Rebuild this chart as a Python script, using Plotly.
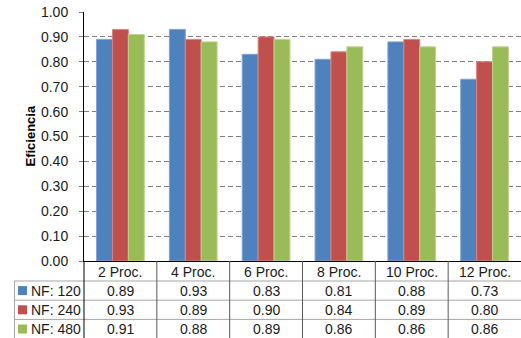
import plotly.graph_objects as go

categories = ["2 Proc.", "4 Proc.", "6 Proc.", "8 Proc.", "10 Proc.", "12 Proc."]
series_names = ["NF: 120", "NF: 240", "NF: 480"]
nf120 = [0.89, 0.93, 0.83, 0.81, 0.88, 0.73]
nf240 = [0.93, 0.89, 0.90, 0.84, 0.89, 0.80]
nf480 = [0.91, 0.88, 0.89, 0.86, 0.86, 0.86]
colors = ["#4F81BD", "#C0504D", "#9BBB59"]
edges = ["#7FA3D3", "#D88380", "#BCD48D"]

W, H = 521, 338
L, R, T, B = 84, 521, 12, 261  # plot area in pixels

def px(x):
    return (x - L) / (R - L)

def py(y):
    return (B - y) / (B - T)

FONT = "Liberation Sans, Arial, sans-serif"
fig = go.Figure()
for name, vals, c, e in zip(series_names, [nf120, nf240, nf480], colors, edges):
    fig.add_trace(go.Bar(x=categories, y=vals, name=name,
                         marker=dict(color=c, line=dict(color=e, width=1))))

shapes = []
annotations = []

# data table beneath the axis
col_w = (R - L) / len(categories)
row_h = 19.2
rows_top = B + 20
table_bottom = H
grid_h = "#A6A6A6"
grid_v = "#595959"

# horizontal lines
for i in range(0, 3):
    yy = rows_top + i * row_h
    shapes.append(dict(type="line", xref="paper", yref="paper",
                       x0=px(14), x1=px(R), y0=py(yy), y1=py(yy),
                       line=dict(color=grid_h, width=1)))
# left border of the series-name column
shapes.append(dict(type="line", xref="paper", yref="paper",
                   x0=px(14.5), x1=px(14.5), y0=py(rows_top), y1=py(table_bottom),
                   line=dict(color=grid_h, width=1)))
# vertical separators between categories
for i in range(1, len(categories)):
    xx = L + i * col_w
    shapes.append(dict(type="line", xref="paper", yref="paper",
                       x0=px(xx), x1=px(xx), y0=py(B), y1=py(table_bottom),
                       line=dict(color=grid_v, width=1)))
# axis line continues down through the table
shapes.append(dict(type="line", xref="paper", yref="paper",
                   x0=px(L), x1=px(L), y0=py(B), y1=py(table_bottom),
                   line=dict(color="black", width=1)))

# header labels
for i, cat in enumerate(categories):
    annotations.append(dict(xref="paper", yref="paper", x=px(L + (i + 0.5) * col_w),
                            y=py(B + 10.5), text=cat, showarrow=False,
                            xanchor="center", yanchor="middle",
                            font=dict(family=FONT, size=14, color="#1a1a1a")))

# rows: legend key, series name and values
for r, (name, vals, c) in enumerate(zip(series_names, [nf120, nf240, nf480], colors)):
    yc = rows_top + (r + 0.5) * row_h
    shapes.append(dict(type="rect", xref="paper", yref="paper",
                       x0=px(18), x1=px(27), y0=py(yc - 4.5), y1=py(yc + 4.5),
                       fillcolor=c, line=dict(width=0)))
    annotations.append(dict(xref="paper", yref="paper", x=px(28.5), y=py(yc),
                            text=name, showarrow=False, xanchor="left", yanchor="middle",
                            font=dict(family=FONT, size=14, color="#1a1a1a")))
    for i, v in enumerate(vals):
        annotations.append(dict(xref="paper", yref="paper", x=px(L + (i + 0.5) * col_w),
                                y=py(yc), text=f"{v:.2f}", showarrow=False,
                                xanchor="center", yanchor="middle",
                                font=dict(family=FONT, size=14, color="#1a1a1a")))

# y-axis title
annotations.append(dict(xref="paper", yref="paper", x=px(30), y=py((T + B) / 2),
                        text="<b>Eficiencia</b>", textangle=-90, showarrow=False,
                        xanchor="center", yanchor="middle",
                        font=dict(family=FONT, size=13, color="black")))

fig.update_layout(
    width=W, height=H,
    margin=dict(l=L, r=W - R, t=T, b=H - B, pad=0),
    paper_bgcolor="white", plot_bgcolor="white",
    barmode="group", bargap=0.345, bargroupgap=0,
    showlegend=False,
    shapes=shapes, annotations=annotations,
    font=dict(family=FONT, color="#1a1a1a"),
)
fig.update_xaxes(showticklabels=False, showline=True, linecolor="black", linewidth=1,
                 showgrid=False, ticks="", range=[-0.5, 5.5])
fig.update_yaxes(range=[0, 1], dtick=0.1, tick0=0, tickformat=".2f",
                 showline=True, linecolor="black", linewidth=1,
                 showgrid=True, gridcolor="#7F7F7F", gridwidth=1, griddash="5px,3px",
                 zeroline=False, ticks="outside", ticklen=4, tickcolor="#7F7F7F",
                 ticklabelstandoff=8,
                 tickfont=dict(family=FONT, size=14, color="#1a1a1a"))

fig.write_html("out.html")
